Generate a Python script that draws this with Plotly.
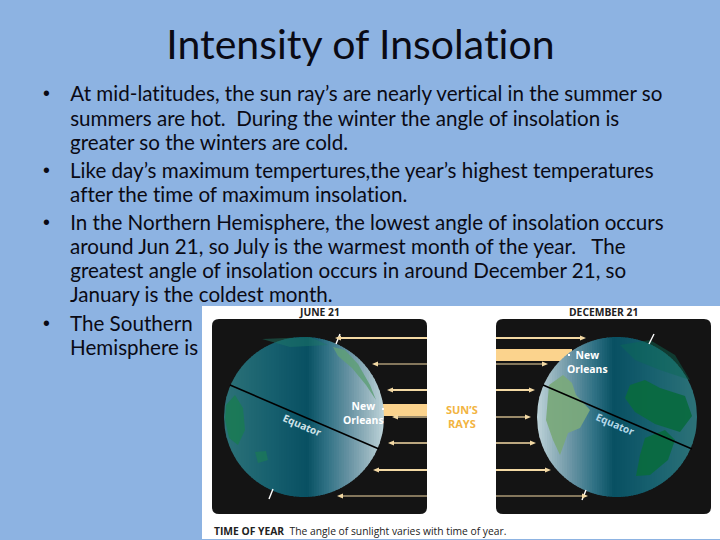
import math
import plotly.graph_objects as go

TITLE = "Intensity of Insolation"
BODY_LINES = [
    ("At mid-latitudes, the sun ray’s are nearly vertical in the summer so", 93, True),
    ("summers are hot.  During the winter the angle of insolation is", 118, False),
    ("greater so the winters are cold.", 142, False),
    ("Like day’s maximum tempertures,the year’s highest temperatures", 170, True),
    ("after the time of maximum insolation.", 194, False),
    ("In the Northern Hemisphere, the lowest angle of insolation occurs", 222, True),
    ("around Jun 21, so July is the warmest month of the year.   The", 246, False),
    ("greatest angle of insolation occurs in around December 21, so", 270, False),
    ("January is the coldest month.", 294, False),
    ("The Southern", 323, True),
    ("Hemisphere is", 347, False),
]
ARROW_Y = [338, 364, 390, 417, 443, 470, 496]
JUNE_TIPS = [335, 372, 387, 392, 388, 373, 337]
DEC_TIPS = [586, 548, 535, 531, 536, 551, 588]
ARROW_W = [2.2, 1.2, 1.8, 1.2, 1.6, 2.2, 1.2]
RAMP_LEFT = [(0, (45, 115, 120)), (.3, (22, 95, 110)), (.52, (8, 80, 98)), (.64, (47, 113, 132)), (.79, (107, 149, 165)), (.9, (150, 180, 190)), (1, (190, 212, 218))]

BLUE = "#8db3e2"
CREAM = "#f3d9a4"
BAND = "#fbd38d"
shapes = []
annotations = []


def rect(x0, y0, x1, y1, color):
    shapes.append(dict(type="rect", x0=x0, y0=y0, x1=x1, y1=y1, fillcolor=color, line_width=0))


def poly(points, color, opacity=1.0):
    d = "M" + " L".join(f"{x:.1f},{y:.1f}" for x, y in points) + " Z"
    shapes.append(dict(type="path", path=d, fillcolor=color, opacity=opacity, line_width=0))


def line(x0, y0, x1, y1, color, width):
    shapes.append(dict(type="line", x0=x0, y0=y0, x1=x1, y1=y1, line=dict(color=color, width=width)))


def rounded(x0, y0, x1, y1, r, color):
    d = (f"M{x0+r},{y0} L{x1-r},{y0} Q{x1},{y0} {x1},{y0+r} L{x1},{y1-r} Q{x1},{y1} {x1-r},{y1} "
         f"L{x0+r},{y1} Q{x0},{y1} {x0},{y1-r} L{x0},{y0+r} Q{x0},{y0} {x0+r},{y0} Z")
    shapes.append(dict(type="path", path=d, fillcolor=color, line_width=0))


def ramp(t):
    for (a, ca), (b, cb) in zip(RAMP_LEFT, RAMP_LEFT[1:]):
        if t <= b:
            f = (t - a) / (b - a)
            return "rgb(%d,%d,%d)" % tuple(round(p + (q - p) * f) for p, q in zip(ca, cb))
    return "rgb(190,212,218)"


def globe(cx, cy, r, mirror):
    n = 64
    for i in range(n):
        a = -r + 2 * r * i / n
        b = min(r, a + 2 * r / n + 0.7)
        t = (i + .5) / n
        col = ramp(1 - t if mirror else t)
        pts = []
        for k in range(5):
            x = a + (b - a) * k / 4
            pts.append((cx + x, cy - math.sqrt(max(r * r - x * x, 0))))
        for k in range(4, -1, -1):
            x = a + (b - a) * k / 4
            pts.append((cx + x, cy + math.sqrt(max(r * r - x * x, 0))))
        poly(pts, col)


def text(x, y, s, size, color, bold=False, anchor="center", angle=0, font="Lato"):
    annotations.append(dict(x=x, y=y, text=f"<b>{s}</b>" if bold else s, showarrow=False, xanchor=anchor,
                            yanchor="middle", textangle=angle, font=dict(family=font, size=size, color=color)))


# White picture area and panels
rect(202, 306, 720, 539, "#ffffff")
rounded(212, 319, 427, 514, 7, "#141414")
rounded(496, 319, 711, 514, 7, "#141414")

# Thick bands behind the globes
rect(383, 404, 427, 416, BAND)
rect(496, 349, 572, 361, BAND)

globe(304, 417, 80, False)
globe(617, 417, 80, True)

# June continents
poly([(333, 347), (345, 350), (358, 364), (370, 385), (376, 400), (366, 385), (352, 368), (338, 356)], "#5f9f78", .85)
poly([(226, 405), (235, 395), (243, 408), (245, 430), (238, 445), (229, 438), (225, 420)], "#1b7a55", .9)
poly([(255, 452), (266, 451), (268, 460), (258, 463)], "#1b7a55", .7)
poly([(262, 339), (310, 337), (328, 345), (290, 347)], "#1e7a66", .45)
# December continents
poly([(549, 385), (563, 375), (572, 383), (576, 395), (590, 410), (580, 428), (568, 433), (560, 455), (553, 440), (546, 420)], "#7aa97c", .95)
poly([(630, 385), (645, 380), (660, 388), (685, 396), (692, 416), (680, 432), (655, 424), (635, 412), (625, 398)], "#0a6a40", .95)
poly([(645, 438), (665, 430), (675, 440), (668, 460), (650, 475), (636, 476), (640, 455)], "#0a6a40", .95)
poly([(620, 345), (650, 340), (675, 355), (690, 380), (660, 370), (635, 360)], "#0a6a55", .45)

# Equators and poles
line(230, 385, 379, 449, "#000000", 1.6)
line(543, 385, 692, 449, "#000000", 1.6)
line(340, 334, 336, 344, "#ffffff", 1.4)
line(273, 489, 269, 499, "#ffffff", 1.4)
line(654, 334, 649, 344, "#ffffff", 1.4)
line(586, 490, 582, 500, "#ffffff", 1.4)

# Sun's rays
for y, tip, w in zip(ARROW_Y, JUNE_TIPS, ARROW_W):
    line(427, y, tip + 4, y, CREAM, w)
    poly([(tip, y), (tip + 6, y - 2.5), (tip + 6, y + 2.5)], CREAM)
for y, tip, w in zip(ARROW_Y, DEC_TIPS, ARROW_W):
    line(496, y, tip - 4, y, CREAM, w)
    poly([(tip, y), (tip - 6, y - 2.5), (tip - 6, y + 2.5)], CREAM)

# New Orleans dots
poly([(382, 408), (384, 408), (384, 410), (382, 410)], "#ffffff")
poly([(568, 354), (570, 354), (570, 356), (568, 356)], "#ffffff")

# Slide text
text(360, 43, TITLE, 41, "#0a0a14", font="Lato")
for s, y, bullet in BODY_LINES:
    text(68, y, s, 20.6, "#0a0a14", anchor="left")
    if bullet:
        text(46, y, "•", 19.6, "#0a0a14", font="Liberation Sans")

# Picture text
text(319, 312, "JUNE 21", 10.3, "#222222", bold=True, font="Open Sans")
text(603, 312, "DECEMBER 21", 10.3, "#222222", bold=True, font="Open Sans")
text(462, 416, "SUN’S<br>RAYS", 11, "#f2b441", bold=True, font="Open Sans")
text(363, 412.5, "New<br>Orleans", 10.4, "#ffffff", bold=True, font="Open Sans")
text(587, 361.5, "New<br>Orleans", 10.4, "#ffffff", bold=True, font="Open Sans")
text(302, 425, "Equator", 10.2, "#cfe2e8", bold=True, angle=23, font="Open Sans")
text(615, 424, "Equator", 10.2, "#b5d8e8", bold=True, angle=23, font="Open Sans")
annotations.append(dict(x=212, y=531, showarrow=False, xanchor="left", yanchor="middle",
                        text="<b>TIME OF YEAR</b>  The angle of sunlight varies with time of year.",
                        font=dict(family="Open Sans", size=10.3, color="#222222")))

fig = go.Figure()
fig.update_layout(
    width=720, height=540, margin=dict(l=0, r=0, t=0, b=0), paper_bgcolor=BLUE, plot_bgcolor=BLUE,
    showlegend=False, shapes=shapes, annotations=annotations,
    xaxis=dict(range=[0, 720], visible=False, fixedrange=True),
    yaxis=dict(range=[540, 0], visible=False, fixedrange=True),
)
POST = """
document.body.style.margin='0';
document.body.style.background='#8db3e2';
document.body.style.overflow='hidden';
var s=document.createElement('style');
s.textContent='text{font-variant-ligatures:none !important;font-feature-settings:"liga" 0,"clig" 0 !important;}';
document.head.appendChild(s);
"""
fig.write_html("out.html", config=dict(displayModeBar=False), post_script=POST)
